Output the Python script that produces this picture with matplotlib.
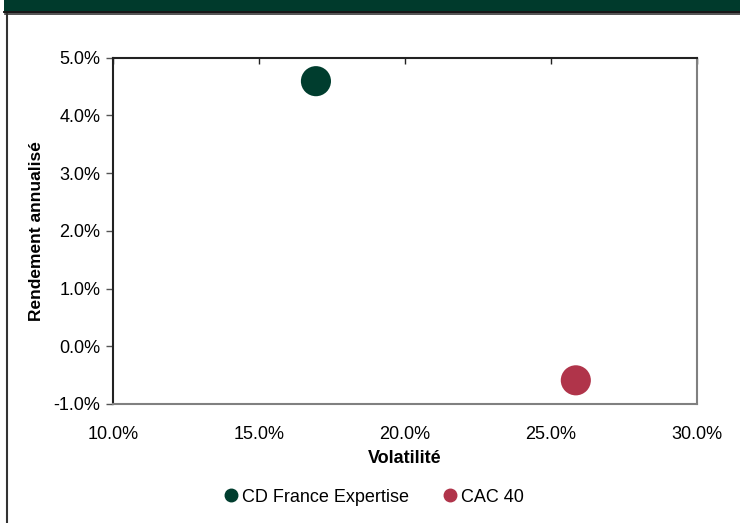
import matplotlib.pyplot as plt
from matplotlib.lines import Line2D
from matplotlib.patches import Rectangle
from matplotlib.ticker import PercentFormatter

plt.rcParams['font.family'] = ['Liberation Sans', 'DejaVu Sans']
plt.rcParams['axes.unicode_minus'] = False

# data
names = ['CD France Expertise', 'CAC 40']
volatility = [16.95, 25.85]   # %
returns = [4.59, -0.59]       # %
colors = ['#003D2E', '#B0344A']

x_ticks = [10, 15, 20, 25, 30]
y_ticks = [-1, 0, 1, 2, 3, 4, 5]

fig = plt.figure(figsize=(7.4, 5.23), dpi=100)

# header band and frame lines
W, H = 740, 523
fig.add_artist(Rectangle((4 / W, (H - 11) / H), 1, 11 / H, transform=fig.transFigure,
                         facecolor='#003A2C', edgecolor='none'))
fig.add_artist(Line2D([4 / W, 1], [(H - 11.8) / H] * 2, transform=fig.transFigure,
                      color='black', lw=1.3))
fig.add_artist(Line2D([5 / W, 1], [(H - 14.3) / H] * 2, transform=fig.transFigure,
                      color='#333333', lw=1.2))
fig.add_artist(Line2D([6.5 / W] * 2, [0, (H - 14) / H], transform=fig.transFigure,
                      color='#333333', lw=1.5))

ax = fig.add_axes([113 / W, 119 / H, 584 / W, 346.5 / H])
for name, x, y, c in zip(names, volatility, returns, colors):
    ax.scatter(x, y, s=470, color=c, edgecolors='none', zorder=3, label=name)

ax.set_xlim(10, 30)
ax.set_ylim(-1, 5)
ax.set_xticks(x_ticks)
ax.set_yticks(y_ticks)
ax.xaxis.set_major_formatter(PercentFormatter(decimals=1))
ax.yaxis.set_major_formatter(PercentFormatter(decimals=1))

ax.tick_params(axis='x', bottom=False, top=True, labelbottom=True, direction='in',
               length=4, width=1, color='#222222', pad=16, labelsize=13)
ax.tick_params(axis='y', left=True, right=False, direction='out', length=5,
               width=1, color='#555555', pad=4, labelsize=13)

ax.spines['top'].set_color('#222222')
ax.spines['left'].set_color('#222222')
ax.spines['bottom'].set_color('#808080')
ax.spines['right'].set_color('#808080')
for s in ax.spines.values():
    s.set_linewidth(1.5)

ax.set_xlabel('Volatilité', fontsize=13, fontweight='bold', labelpad=5)
ax.set_ylabel('Rendement annualisé', fontsize=12.5, fontweight='bold', labelpad=7)

handles = [Line2D([], [], marker='o', ls='none', color=c, markersize=9) for c in colors]
fig.legend(handles, names, loc='center', bbox_to_anchor=(372 / W, (H - 497) / H),
           ncol=2, frameon=False, fontsize=13, handletextpad=0.0,
           columnspacing=1.65, handlelength=1.2)

fig.savefig('out.png', dpi=100)
